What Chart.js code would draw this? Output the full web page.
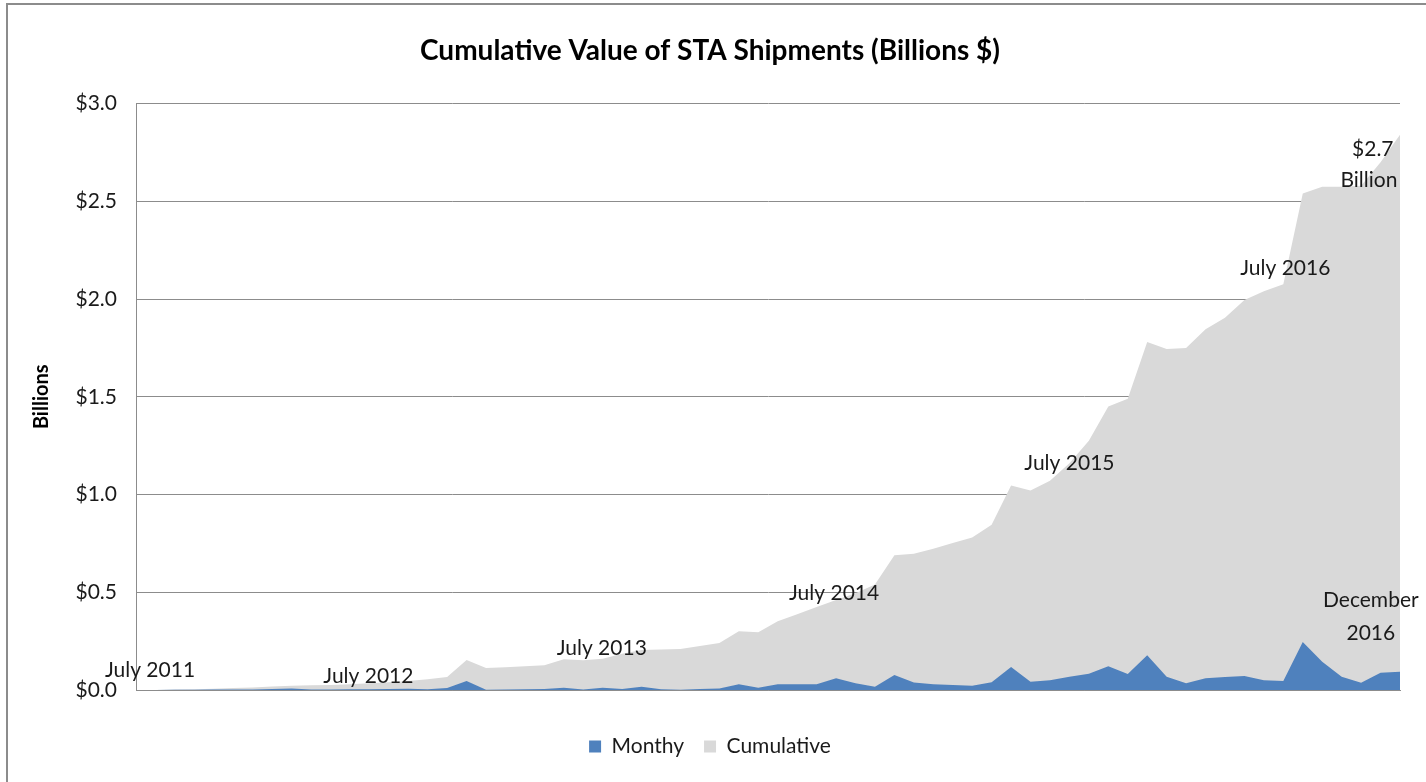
<!DOCTYPE html>
<html>
<head>
<meta charset="utf-8">
<script src="https://cdn.jsdelivr.net/npm/chart.js@4.4.0/dist/chart.umd.min.js"></script>
<style>
  html, body { margin: 0; padding: 0; background: #fff; overflow: hidden; }
  #frame { position: absolute; left: 6px; top: 3px; width: 1500px; height: 900px; border: 2px solid #8c8c8c; }
  #wrap { position: absolute; left: 0; top: 0; width: 1426px; height: 782px; }
</style>
</head>
<body>
<div id="frame"></div>
<div id="wrap"><canvas id="myChart" width="1426" height="782"></canvas></div>
<script>
// months, July 2011 - December 2016
var months = [
  'Jul 2011','Aug 2011','Sep 2011','Oct 2011','Nov 2011','Dec 2011',
  'Jan 2012','Feb 2012','Mar 2012','Apr 2012','May 2012','Jun 2012','Jul 2012','Aug 2012','Sep 2012','Oct 2012','Nov 2012','Dec 2012',
  'Jan 2013','Feb 2013','Mar 2013','Apr 2013','May 2013','Jun 2013','Jul 2013','Aug 2013','Sep 2013','Oct 2013','Nov 2013','Dec 2013',
  'Jan 2014','Feb 2014','Mar 2014','Apr 2014','May 2014','Jun 2014','Jul 2014','Aug 2014','Sep 2014','Oct 2014','Nov 2014','Dec 2014',
  'Jan 2015','Feb 2015','Mar 2015','Apr 2015','May 2015','Jun 2015','Jul 2015','Aug 2015','Sep 2015','Oct 2015','Nov 2015','Dec 2015',
  'Jan 2016','Feb 2016','Mar 2016','Apr 2016','May 2016','Jun 2016','Jul 2016','Aug 2016','Sep 2016','Oct 2016','Nov 2016','Dec 2016'
]

// billions $
var monthly = [
  0, 0, 0.001, 0.001, 0.002, 0.003,
  0.003, 0.005, 0.008, 0.003, 0.003, 0.004, 0.004, 0.005, 0.007, 0.004, 0.010, 0.046,
  0.001, 0.003, 0.004, 0.005, 0.012, 0.002, 0.012, 0.005, 0.017, 0.004, 0.001, 0.005,
  0.008, 0.030, 0.012, 0.029, 0.029, 0.030, 0.060, 0.034, 0.017, 0.077, 0.039, 0.030,
  0.025, 0.022, 0.040, 0.118, 0.042, 0.050, 0.068, 0.083, 0.122, 0.082, 0.178, 0.068,
  0.035, 0.060, 0.066, 0.071, 0.050, 0.046, 0.246, 0.144, 0.068, 0.037, 0.088, 0.093
]

var cumulative = [
  0, 0, 0.002, 0.004, 0.006, 0.010,
  0.013, 0.018, 0.022, 0.024, 0.026, 0.030, 0.034, 0.040, 0.046, 0.055, 0.066, 0.153,
  0.112, 0.117, 0.121, 0.126, 0.157, 0.152, 0.160, 0.185, 0.204, 0.207, 0.210, 0.225,
  0.240, 0.300, 0.295, 0.352, 0.388, 0.425, 0.460, 0.495, 0.540, 0.690, 0.697, 0.722,
  0.752, 0.780, 0.845, 1.046, 1.020, 1.070, 1.160, 1.275, 1.450, 1.490, 1.780, 1.745,
  1.750, 1.845, 1.905, 1.995, 2.040, 2.076, 2.540, 2.575, 2.575, 2.580, 2.700, 2.840
]

// text notes on the plot: [text, month index, value]
var notes = [
  ['July 2011', 0.72, 0.10],
  ['July 2012', 11.95, 0.07],
  ['July 2013', 23.95, 0.214],
  ['July 2014', 35.9, 0.495],
  ['July 2015', 48, 1.158],
  ['July 2016', 59.1, 2.158],
  ['$2.7', 63.6, 2.765],
  ['Billion', 63.4, 2.61],
  ['December', 63.5, 0.459],
  ['2016', 63.5, 0.29]
]

var yTicks = [0, 0.5, 1, 1.5, 2, 2.5, 3]

var fontName = 'Lato, "Open Sans", sans-serif'
var gridGray = '#8c8c8c'

// draws the notes
var notesPlugin = {
  id: 'notes',
  afterDatasetsDraw(chart) {
    var ctx = chart.ctx
    var xs = chart.scales.x
    var ys = chart.scales.y
    ctx.save()
    ctx.font = '21px ' + fontName
    ctx.fillStyle = '#1a1a1a'
    ctx.textAlign = 'center'
    ctx.textBaseline = 'middle'
    notes.forEach(function(n) {
      ctx.fillText(n[0], xs.getPixelForValue(n[1]), ys.getPixelForValue(n[2]))
    })
    ctx.restore()
  }
}

var ctx = document.getElementById('myChart')
var myChart = new Chart(ctx, {
  type: 'line',
  data: {
    labels: months,
    datasets: [{
      label: 'Monthy',
      data: monthly,
      backgroundColor: '#4f81bd',
      borderColor: '#4f81bd',
      borderWidth: 0,
      fill: 'origin',
      pointRadius: 0,
      tension: 0
    }, {
      label: 'Cumulative',
      data: cumulative,
      backgroundColor: '#d9d9d9',
      borderColor: '#d9d9d9',
      borderWidth: 0,
      fill: 'origin',
      pointRadius: 0,
      tension: 0
    }]
  },
  plugins: [notesPlugin],
  options: {
    responsive: false,
    animation: false,
    layout: { padding: { left: 20, right: 26, top: 0, bottom: 15 } },
    plugins: {
      title: {
        display: true,
        text: 'Cumulative Value of STA Shipments (Billions $)',
        color: '#000',
        font: { family: fontName, size: 28, weight: 'bold' },
        padding: { top: 34, bottom: 36 }
      },
      legend: {
        position: 'bottom',
        labels: {
          color: '#1a1a1a',
          font: { family: fontName, size: 21 },
          boxWidth: 12,
          boxHeight: 12,
          padding: 20
        }
      },
      tooltip: { enabled: false }
    },
    scales: {
      x: {
        grid: { display: false },
        border: { display: true, color: gridGray, width: 1 },
        ticks: { display: false },
        afterFit: function(scale) { scale.height = 26 }
      },
      y: {
        min: 0,
        max: 3,
        afterBuildTicks: function(scale) {
          scale.ticks = yTicks.map(function(v) { return { value: v } })
        },
        ticks: {
          color: '#1a1a1a',
          font: { family: fontName, size: 21 },
          padding: 19,
          callback: function(v) { return '$' + Number(v).toFixed(1) }
        },
        grid: { color: gridGray, lineWidth: 1, drawTicks: false },
        border: { display: true, color: gridGray, width: 1 },
        title: {
          display: true,
          text: 'Billions',
          color: '#000',
          font: { family: fontName, size: 20, weight: 'bold' },
          padding: { top: 10, bottom: 0 }
        },
        afterFit: function(scale) { scale.width = 116 }
      }
    }
  }
})
</script>
</body>
</html>
